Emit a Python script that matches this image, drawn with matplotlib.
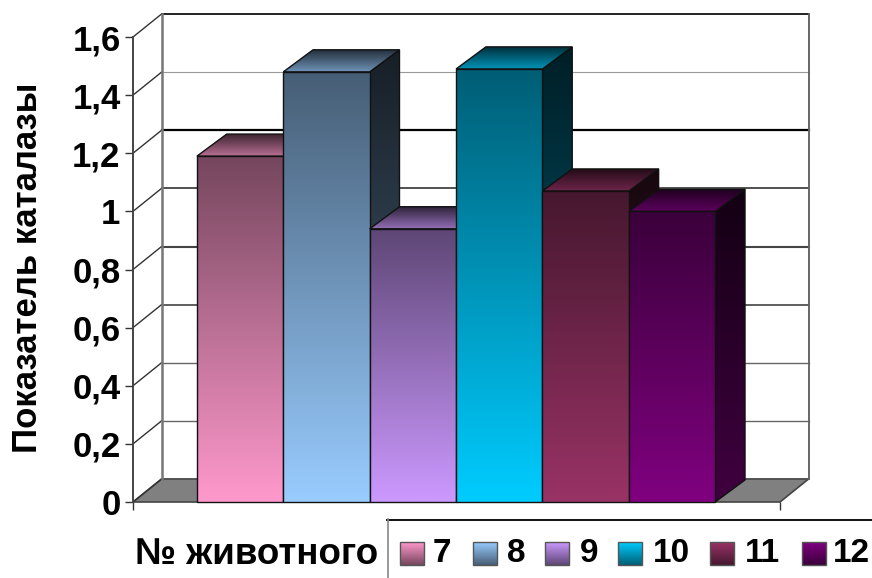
import matplotlib
matplotlib.use('Agg')
import matplotlib.pyplot as plt
import numpy as np
from matplotlib.patches import Polygon

plt.rcParams['font.family'] = ['Liberation Sans', 'DejaVu Sans']
plt.rcParams['font.weight'] = 'bold'

# data
animals = ['7', '8', '9', '10', '11', '12']
catalase = [1.19, 1.48, 0.94, 1.49, 1.07, 1.0]
y_ticks = [0, 0.2, 0.4, 0.6, 0.8, 1.0, 1.2, 1.4, 1.6]
y_labels = ['0', '0,2', '0,4', '0,6', '0,8', '1', '1,2', '1,4', '1,6']

colors = [(255, 153, 204), (153, 204, 255), (204, 153, 255),
          (0, 204, 255), (153, 51, 102), (128, 0, 128)]
grid_colors = ['#555555', '#666666', '#666666', '#444444', '#444444',
               '#333333', '#000000', '#999999', '#222222', ]
grid_widths = [1.2, 1.0, 1.0, 1.2, 1.5, 1.2, 1.6, 0.8, 1.4]

# 3d offsets, in data units
WALL_DX, WALL_DY = 0.33, 0.079
BAR_DX, BAR_DY = 0.345, 0.076
X0, X1 = -1.24, 6.25

fig = plt.figure(figsize=(8.72, 5.78), dpi=100)
ax = fig.add_axes([133 / 872, 76 / 578, 647 / 872, 465 / 578])


def rgb(c, k):
    return np.array(c) / 255 * k


def face(a, pts, top, bottom, edge='#111111', lw=1.0, z=3):
    # polygon filled by vertical gradient, top colour to bottom colour
    pts = np.array(pts)
    t = np.linspace(0, 1, 128)[:, None, None]
    grad = np.clip(top + (bottom - top) * t, 0, 1)
    im = a.imshow(grad, aspect='auto', interpolation='bilinear', zorder=z,
                  extent=[pts[:, 0].min(), pts[:, 0].max(), pts[:, 1].min(), pts[:, 1].max()],
                  origin='upper')
    poly = Polygon(pts, closed=True, transform=a.transData, fc='none', ec=edge,
                   lw=lw, zorder=z, clip_on=False)
    a.add_patch(poly)
    im.set_clip_box(fig.bbox)
    im.set_clip_path(poly)


# floor
floor = [(X0, 0), (X1, 0), (X1 + WALL_DX, WALL_DY), (X0 + WALL_DX, WALL_DY)]
ax.add_patch(Polygon(floor, closed=True, fc='#808080', ec='#444444', lw=1.2, zorder=1, clip_on=False))

# gridlines on back wall and left wall
for v, c, w in zip(y_ticks, grid_colors, grid_widths):
    ax.plot([X0 + WALL_DX, X1 + WALL_DX], [v + WALL_DY, v + WALL_DY], color=c, lw=w, zorder=2, clip_on=False)
    ax.plot([X0, X0 + WALL_DX], [v, v + WALL_DY], color='#333333', lw=1.0, zorder=2, clip_on=False)

# wall edges
top_y = y_ticks[-1] + WALL_DY
ax.plot([X0 + WALL_DX] * 2, [WALL_DY, top_y], color='#777777', lw=1.8, zorder=2, clip_on=False)
ax.plot([X1 + WALL_DX] * 2, [WALL_DY, top_y], color='#666666', lw=1.4, zorder=2, clip_on=False)

# bars, left to right so each one covers the side of the previous one
for i, (v, c) in enumerate(zip(catalase, colors)):
    l, r = i - 0.5, i + 0.5
    face(ax, [(r, 0), (r + BAR_DX, BAR_DY), (r + BAR_DX, v + BAR_DY), (r, v)],
         rgb(c, 0.15), rgb(c, 0.5), z=3 + i)
    face(ax, [(l, v), (r, v), (r + BAR_DX, v + BAR_DY), (l + BAR_DX, v + BAR_DY)],
         rgb(c, 0.22), rgb(c, 0.72), z=3 + i)
    face(ax, [(l, 0), (r, 0), (r, v), (l, v)],
         rgb(c, 0.46), rgb(c, 1.0), z=3 + i)

ax.set_xlim(X0, X1)
ax.set_ylim(0, 1.6)
ax.set_yticks(y_ticks, y_labels)
ax.set_xticks([X0, X1], ['', ''])
ax.tick_params(axis='y', length=6, width=1.0, color='#333333', labelsize=25, pad=3)
ax.tick_params(axis='x', length=6, width=1.0, color='#333333')
ax.patch.set_visible(False)
for s in ['top', 'right', 'bottom']:
    ax.spines[s].set_visible(False)
ax.spines['left'].set_color('#444444')
ax.spines['left'].set_linewidth(1.4)
ax.set_ylabel('Показатель каталазы', fontsize=25, fontweight='bold')
ax.yaxis.set_label_coords(-0.138, 0.503)

# legend, laid out in pixels
leg = fig.add_axes([0, 0, 1, 1])
leg.patch.set_visible(False)
leg.axis('off')
leg.plot([387, 872], [519.5, 519.5], color='#111111', lw=1.4)
leg.plot([387.5, 387.5], [519, 578], color='#888888', lw=1.2)
leg.text(378, 554, '№ животного', ha='right', va='center', fontsize=26.5)
swatch_x = [400, 473, 545, 618, 710, 802]
label_x = [433, 507, 580, 653, 745, 833]
for sx, lx, name, c in zip(swatch_x, label_x, animals, colors):
    face(leg, [(sx, 565), (sx + 24, 565), (sx + 24, 542), (sx, 542)],
         rgb(c, 0.46), rgb(c, 1.0), edge='#555555', lw=1.0)
    leg.text(lx, 554, name, ha='left', va='center', fontsize=24)
leg.set_xlim(0, 872)
leg.set_ylim(578, 0)

fig.savefig('out.png', dpi=100)
